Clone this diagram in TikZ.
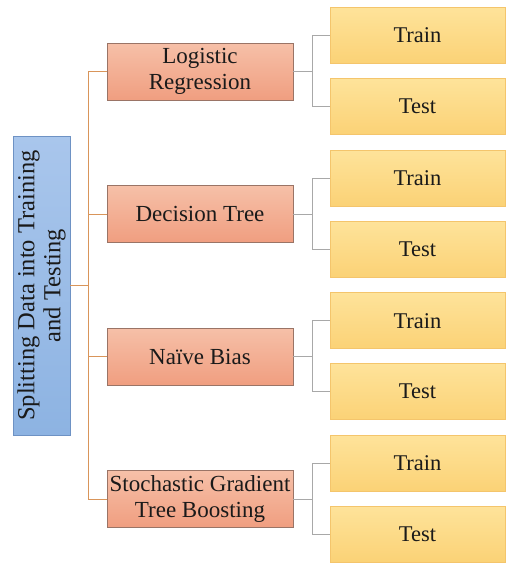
\documentclass[tikz,border=0pt]{standalone}
\usepackage{fontspec}
\setmainfont[Ligatures={NoCommon}]{Liberation Serif}
\begin{document}
\begin{tikzpicture}[x=1pt,y=-1pt,
  rootbox/.style={draw=rootborder, line width=0.8pt, top color=rootlight, bottom color=rootdark, minimum width=57pt, minimum height=299pt, inner sep=0pt},
  midbox/.style={draw=midborder, line width=0.8pt, top color=midlight, bottom color=middark, minimum width=186pt, minimum height=57pt, inner sep=0pt, align=center, font=\fontsize{23}{25.5}\selectfont, text=textc},
  leafbox/.style={draw=leafborder, line width=0.6pt, top color=leaflight, bottom color=leafdark, minimum width=175pt, minimum height=56pt, inner sep=0pt, font=\fontsize{22.5}{25}\selectfont, text=textc},
  trunkline/.style={draw=trunkc, line width=1pt},
  branchline/.style={draw=branchc, line width=1pt}]
\definecolor{rootlight}{HTML}{A9C6EC}
\definecolor{rootdark}{HTML}{8DB3E2}
\definecolor{rootborder}{HTML}{6E92C4}
\definecolor{midlight}{HTML}{F6C0A8}
\definecolor{middark}{HTML}{F09E80}
\definecolor{midborder}{HTML}{9A7466}
\definecolor{leaflight}{HTML}{FEE39A}
\definecolor{leafdark}{HTML}{FBD276}
\definecolor{leafborder}{HTML}{F4C56C}
\definecolor{trunkc}{HTML}{D9955A}
\definecolor{branchc}{HTML}{A8A8A8}
\definecolor{textc}{HTML}{1A1A1A}
\useasboundingbox (0,0) rectangle (508,563);
\fill[white] (0,0) rectangle (508,563);
\node[rootbox] (root) at (41.5,285.5) {};
\node[rotate=90, align=center, font=\fontsize{24.5}{26}\selectfont, text=textc] (roottext) at (root.center) {Splitting Data into Training\\and Testing};
\node[midbox] (lr) at (200,71.5) {Logistic\\Regression};
\node[midbox] (dt) at (200,214) {Decision Tree};
\node[midbox] (nb) at (200,356.5) {Naïve Bias};
\node[midbox] (sg) at (200,499) {Stochastic Gradient\\Tree Boosting};
\foreach \i/\m in {1/lr,2/dt,3/nb,4/sg}{
  \pgfmathsetmacro{\ytr}{35.5+142.6*(\i-1)}
  \pgfmathsetmacro{\yte}{106.5+142.6*(\i-1)}
  \node[leafbox] (tr\i) at (417.5,\ytr) {Train};
  \node[leafbox] (te\i) at (417.5,\yte) {Test};
}
\coordinate (trunk) at (88,0);
\coordinate (gx) at (312,0);
\draw[trunkline] (root.east) -- (root.east -| trunk);
\draw[trunkline] (trunk |- lr.west) -- (trunk |- sg.west);
\foreach \m in {lr,dt,nb,sg}{
  \draw[trunkline] (trunk |- \m.west) -- (\m.west);
}
\foreach \i/\m in {1/lr,2/dt,3/nb,4/sg}{
  \draw[branchline] (\m.east) -- (\m.east -| gx);
  \draw[branchline] (tr\i.west) -- (gx |- tr\i.west) -- (gx |- te\i.west) -- (te\i.west);
}
\end{tikzpicture}
\end{document}
